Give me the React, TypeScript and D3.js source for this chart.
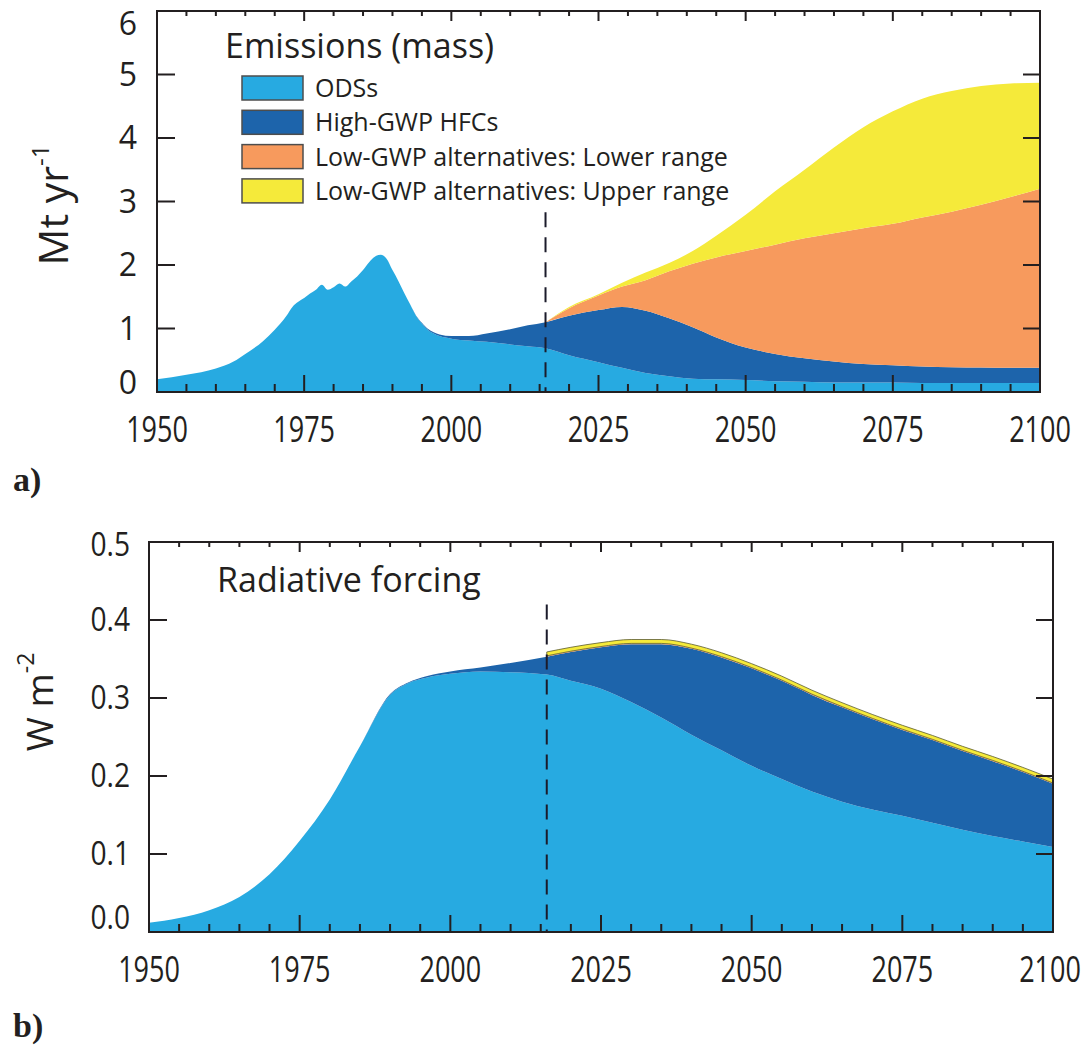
import React from 'react';
import * as d3 from 'd3';

// ---- data ----
// a) emissions, Mt/yr, stacked increments
const emYears = [1950, 1955, 1960, 1963, 1965, 1968, 1970, 1972, 1973, 1974, 1975, 1976, 1977, 1978, 1979, 1980, 1981, 1982, 1983, 1984, 1985, 1986, 1987, 1988, 1989, 1990, 1991, 1992, 1993, 1994, 1995, 1996, 1997, 1998, 2000, 2003, 2006, 2010, 2013, 2016, 2020, 2025, 2029, 2033, 2037, 2041, 2045, 2050, 2055, 2060, 2065, 2070, 2075, 2080, 2085, 2090, 2095, 2100];
const emODS = [0.2, 0.27, 0.37, 0.48, 0.6, 0.8, 0.98, 1.2, 1.34, 1.42, 1.48, 1.55, 1.61, 1.69, 1.61, 1.65, 1.71, 1.66, 1.74, 1.82, 1.92, 2.04, 2.13, 2.16, 2.1, 1.92, 1.75, 1.56, 1.38, 1.2, 1.08, 0.98, 0.92, 0.88, 0.84, 0.81, 0.79, 0.75, 0.72, 0.69, 0.58, 0.47, 0.38, 0.3, 0.25, 0.21, 0.2, 0.19, 0.17, 0.16, 0.15, 0.15, 0.15, 0.14, 0.14, 0.14, 0.14, 0.14];
const emHFC = [0, 0, 0, 0, 0, 0, 0, 0, 0, 0, 0, 0, 0, 0, 0, 0, 0, 0, 0, 0, 0, 0, 0, 0, 0, 0, 0, 0, 0, 0.005, 0.01, 0.015, 0.02, 0.025, 0.04, 0.07, 0.13, 0.24, 0.33, 0.41, 0.62, 0.82, 0.96, 0.98, 0.91, 0.81, 0.66, 0.51, 0.43, 0.37, 0.33, 0.29, 0.27, 0.26, 0.25, 0.245, 0.24, 0.24];
const emLowGWPLower = [0, 0, 0, 0, 0, 0, 0, 0, 0, 0, 0, 0, 0, 0, 0, 0, 0, 0, 0, 0, 0, 0, 0, 0, 0, 0, 0, 0, 0, 0, 0, 0, 0, 0, 0, 0, 0, 0, 0, 0, 0.12, 0.23, 0.32, 0.48, 0.74, 1.0, 1.26, 1.52, 1.72, 1.89, 2.02, 2.14, 2.23, 2.35, 2.45, 2.565, 2.69, 2.82];
const emLowGWPUpper = [0, 0, 0, 0, 0, 0, 0, 0, 0, 0, 0, 0, 0, 0, 0, 0, 0, 0, 0, 0, 0, 0, 0, 0, 0, 0, 0, 0, 0, 0, 0, 0, 0, 0, 0, 0, 0, 0, 0, 0, 0.02, 0.02, 0.06, 0.12, 0.13, 0.2, 0.34, 0.57, 0.84, 1.08, 1.35, 1.59, 1.77, 1.87, 1.9, 1.87, 1.79, 1.67];

// b) radiative forcing, W/m2, stacked increments
const rfYears = [1950, 1955, 1960, 1965, 1970, 1975, 1980, 1985, 1990, 1993, 1996, 2000, 2005, 2010, 2016, 2020, 2025, 2030, 2035, 2040, 2045, 2050, 2055, 2060, 2065, 2070, 2075, 2080, 2085, 2090, 2095, 2100];
const rfODS = [0.012, 0.018, 0.028, 0.045, 0.074, 0.117, 0.17, 0.238, 0.304, 0.319, 0.326, 0.331, 0.334, 0.333, 0.33, 0.322, 0.312, 0.295, 0.275, 0.253, 0.233, 0.213, 0.196, 0.18, 0.167, 0.157, 0.149, 0.14, 0.131, 0.123, 0.116, 0.109];
const rfHFC = [0, 0, 0, 0, 0, 0, 0, 0, 0.001, 0.001, 0.002, 0.003, 0.005, 0.012, 0.023, 0.037, 0.053, 0.074, 0.094, 0.11, 0.119, 0.125, 0.126, 0.124, 0.121, 0.116, 0.11, 0.106, 0.101, 0.096, 0.089, 0.081];
const rfLowGWPLower = [0, 0, 0, 0, 0, 0, 0, 0, 0, 0, 0, 0, 0, 0, 0.001, 0.001, 0.001, 0.001, 0.001, 0.001, 0.001, 0.001, 0.001, 0.001, 0.001, 0.001, 0.001, 0.001, 0.001, 0.001, 0.001, 0.001];
const rfLowGWPUpper = [0, 0, 0, 0, 0, 0, 0, 0, 0, 0, 0, 0, 0, 0, 0.005, 0.005, 0.005, 0.005, 0.005, 0.005, 0.005, 0.005, 0.005, 0.005, 0.005, 0.005, 0.005, 0.005, 0.005, 0.005, 0.005, 0.005];

const xTickLabels = [1950, 1975, 2000, 2025, 2050, 2075, 2100];
const emYTicks = [0, 1, 2, 3, 4, 5, 6];
const rfYTicks = [0, 0.1, 0.2, 0.3, 0.4, 0.5];
const legendLabels = ['ODSs', 'High-GWP HFCs', 'Low-GWP alternatives: Lower range', 'Low-GWP alternatives: Upper range'];
const projectionStart = 2016;

const KEYS = ['ods', 'hfc', 'lower', 'upper'];
const COLORS: Record<string, string> = { ods: '#27aae1', hfc: '#1d64ab', lower: '#f79a5d', upper: '#f5ea3a' };
const SANS = "'Open Sans', 'Noto Sans', sans-serif";
const INK = '#231f20';

type Row = { year: number; ods: number; hfc: number; lower: number; upper: number };

const rowsOf = (years: number[], a: number[], b: number[], c: number[], d: number[]): Row[] =>
  years.map((year, i) => ({ year, ods: a[i], hfc: b[i], lower: c[i], upper: d[i] }));

function Chart(props: any) {
  const { rows, xRange, yRange, yMax, yTicks, yFmt, yLabelX, yLabelScale, xLabelY, markerTop, bandStroke, nudge } = props;
  const x = d3.scaleLinear().domain([1950, 2100]).range(xRange);
  const y = d3.scaleLinear().domain([0, yMax]).range(yRange);
  const stacked = d3.stack<Row>().keys(KEYS)(rows);
  const [left, right] = xRange;
  const [bottom, top] = yRange;

  const minor = d3.range(1950, 2101, 5).filter((t) => t % 25 !== 0);

  return (
    <g>
      {stacked.map((layer) => {
        const future = layer.key === 'lower' || layer.key === 'upper';
        const area = d3
          .area<d3.SeriesPoint<Row>>()
          .defined((d) => !future || d.data.year >= projectionStart)
          .x((d) => x(d.data.year))
          .y0((d) => y(d[0]))
          .y1((d) => y(d[1]))
          .curve(d3.curveMonotoneX);
        return (
          <path
            key={layer.key}
            d={area(layer) || ''}
            fill={COLORS[layer.key]}
            stroke={bandStroke && layer.key === 'upper' ? '#5b5a30' : 'none'}
            strokeWidth={0.8}
          />
        );
      })}

      {/* projection start */}
      <line x1={x(projectionStart)} x2={x(projectionStart)} y1={y(markerTop)} y2={bottom}
        stroke="#1b1b2b" strokeWidth={2} strokeDasharray="15 10" />

      {/* frame */}
      <rect x={left} y={top} width={right - left} height={bottom - top} fill="none" stroke={INK} strokeWidth={2} />

      {/* x ticks, inward, on bottom and top */}
      {xTickLabels.map((t) => (
        <g key={'M' + t}>
          <line x1={x(t)} x2={x(t)} y1={bottom} y2={bottom - 17} stroke={INK} strokeWidth={2} />
          <line x1={x(t)} x2={x(t)} y1={top} y2={top + 10} stroke={INK} strokeWidth={2} />
          <text transform={`translate(${Math.min(x(t), 1050)},${xLabelY}) scale(0.9,1.22)`} textAnchor="middle"
            fontSize={30} fontFamily={SANS} fill={INK}>{t}</text>
        </g>
      ))}
      {minor.map((t) => (
        <g key={'m' + t}>
          <line x1={x(t)} x2={x(t)} y1={bottom} y2={bottom - 8} stroke={INK} strokeWidth={2} />
          <line x1={x(t)} x2={x(t)} y1={top} y2={top + 5} stroke={INK} strokeWidth={2} />
        </g>
      ))}

      {/* y ticks, inward, left and right */}
      {yTicks.map((v: number, i: number) => (
        <g key={'y' + v}>
          {i > 0 && i < yTicks.length - 1 && (
            <>
              <line x1={left} x2={left + 18} y1={y(v)} y2={y(v)} stroke={INK} strokeWidth={2} />
              <line x1={right} x2={right - 17} y1={y(v)} y2={y(v)} stroke={INK} strokeWidth={2} />
            </>
          )}
          <text transform={`translate(${yLabelX},${y(v) + 11 + (nudge[i] || 0)}) scale(${yLabelScale},1)`}
            textAnchor="end" fontSize={32} fontFamily={SANS} fill={INK}>{yFmt(v)}</text>
        </g>
      ))}
    </g>
  );
}

export default function App() {
  const emRows = rowsOf(emYears, emODS, emHFC, emLowGWPLower, emLowGWPUpper);
  const rfRows = rowsOf(rfYears, rfODS, rfHFC, rfLowGWPLower, rfLowGWPUpper);

  return (
    <svg width={1083} height={1047} style={{ position: 'absolute', left: 0, top: 0, background: '#fff' }}>
      {/* panel a */}
      <Chart rows={emRows} xRange={[157, 1040]} yRange={[392, 11]} yMax={6} yTicks={emYTicks}
        yFmt={(v: number) => String(v)} yLabelX={137} yLabelScale={1} xLabelY={442} markerTop={2.83}
        bandStroke={false} nudge={[-9, 0, 0, 0, 0, 0, 13]} />
      <text x={225} y={58} fontSize={34} fontFamily={SANS} fill={INK}>Emissions (mass)</text>
      {legendLabels.map((label, i) => (
        <g key={label} transform={`translate(242,${76 + i * 34.3})`}>
          <rect width={61} height={24} fill={COLORS[KEYS[i]]} stroke="#4d4d4d" strokeWidth={1.5} />
          <text x={73} y={21} fontSize={25} fontFamily={SANS} fill={INK}>{label}</text>
        </g>
      ))}
      <text transform="translate(68,205) rotate(-90)" textAnchor="middle" fontSize={41} fontFamily={SANS} fill={INK}>
        Mt yr<tspan dy={-19} fontSize={24}>-1</tspan>
      </text>
      <text x={13} y={491} fontSize={34} fontWeight="bold" fontFamily="'Liberation Serif', 'DejaVu Serif', serif" fill={INK}>a)</text>

      {/* panel b */}
      <Chart rows={rfRows} xRange={[149, 1053]} yRange={[932, 542]} yMax={0.5} yTicks={rfYTicks}
        yFmt={(v: number) => v.toFixed(1)} yLabelX={130} yLabelScale={0.88} xLabelY={982} markerTop={0.42}
        bandStroke={true} nudge={[-14, 0, 0, 0, 0, 3]} />
      <text x={217} y={592} fontSize={34} fontFamily={SANS} fill={INK}>Radiative forcing</text>
      <text transform="translate(53,702) rotate(-90)" textAnchor="middle" fontSize={37} fontFamily={SANS} fill={INK}>
        W m<tspan dy={-19} fontSize={23}>-2</tspan>
      </text>
      <text x={13} y={1037} fontSize={34} fontWeight="bold" fontFamily="'Liberation Serif', 'DejaVu Serif', serif" fill={INK}>b)</text>
    </svg>
  );
}
